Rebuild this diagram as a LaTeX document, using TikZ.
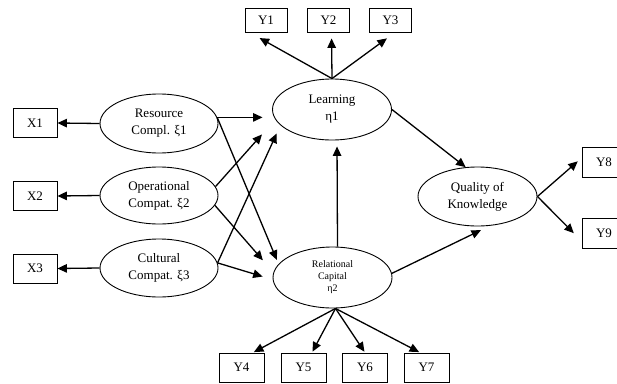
\documentclass[tikz,border=0pt]{standalone}
\usepackage{fontspec}
\setmainfont{Liberation Serif}
\usetikzlibrary{arrows.meta,shapes.geometric}
\begin{document}
\begin{tikzpicture}[x=1pt,y=-1pt,
  lat/.style={ellipse,draw,line width=0.9pt,inner sep=0pt,align=center,font=\fontsize{13}{17}\selectfont},
  obs/.style={rectangle,draw,line width=0.9pt,inner sep=0pt,font=\fontsize{13}{15}\selectfont},
  arr/.style={line width=1.3pt,-{Triangle[length=9.5pt,width=8.5pt]}}]
\useasboundingbox (0,0) rectangle (617,383);
% latent variables
\node[lat,minimum width=118pt,minimum height=59pt] (res) at (159,123.5) {Resource\\Compl. ξ1};
\node[lat,minimum width=118pt,minimum height=57pt] (ope) at (159,195.5) {Operational\\Compat. ξ2};
\node[lat,minimum width=118pt,minimum height=58pt] (cul) at (159,268) {Cultural\\Compat. ξ3};
\node[lat,minimum width=119pt,minimum height=61pt] (lea) at (332,109.5) {Learning\\η1};
\node[lat,minimum width=119pt,minimum height=61pt,font=\fontsize{10}{12}\selectfont] (rel) at (332.5,277.5) {Relational\\Capital\\η2};
\node[lat,minimum width=119pt,minimum height=59pt] (qua) at (477.5,196.5) {Quality of\\Knowledge};
% observed variables
\node[obs,minimum width=44pt,minimum height=29pt] (X1) at (35,123) {X1};
\node[obs,minimum width=44pt,minimum height=29pt] (X2) at (35,196) {X2};
\node[obs,minimum width=44pt,minimum height=29pt] (X3) at (35,268.5) {X3};
\node[obs,minimum width=42pt,minimum height=24pt] (Y1) at (266,20) {Y1};
\node[obs,minimum width=42pt,minimum height=24pt] (Y2) at (328.5,20) {Y2};
\node[obs,minimum width=42pt,minimum height=24pt] (Y3) at (390.5,20) {Y3};
\node[obs,minimum width=45pt,minimum height=29pt] (Y4) at (241.5,367.5) {Y4};
\node[obs,minimum width=45pt,minimum height=29pt] (Y5) at (303.5,367.5) {Y5};
\node[obs,minimum width=45pt,minimum height=29pt] (Y6) at (365,367.5) {Y6};
\node[obs,minimum width=45pt,minimum height=29pt] (Y7) at (426.5,367.5) {Y7};
\node[obs,minimum width=44pt,minimum height=30pt] (Y8) at (604,162) {Y8};
\node[obs,minimum width=44pt,minimum height=30pt] (Y9) at (604,233) {Y9};
% measurement arrows
\draw[arr] (res.west) -- (X1.east);
\draw[arr] (ope.west) -- (X2.east);
\draw[arr] (cul.west) -- (X3.east);
\draw[arr,shorten >=11.5pt] (lea.north) -- ([xshift=5pt]Y1.south west);
\draw[arr,shorten >=6pt] (lea.north) -- ([xshift=3pt]Y2.south);
\draw[arr,shorten >=10pt] (lea.north) -- ([xshift=4.5pt]Y3.south);
\draw[arr,shorten >=1pt] ([xshift=3pt]rel.south) -- ([xshift=11.5pt]Y4.north);
\draw[arr,shorten >=1pt] ([xshift=3pt]rel.south) -- ([xshift=8.5pt]Y5.north);
\draw[arr,shorten >=1pt] ([xshift=3pt]rel.south) -- (Y6.north);
\draw[arr,shorten >=1pt] ([xshift=3pt]rel.south) -- ([xshift=-6.5pt]Y7.north);
\draw[arr,shorten >=5pt] (qua.east) -- ([yshift=4pt]Y8.west);
\draw[arr,shorten >=11pt] (qua.east) -- ([yshift=-8pt]Y9.west);
% structural arrows
\draw[arr,shorten >=9.5pt] (res.6) -- (res.6 -| lea.west);
\draw[arr,shorten >=4.5pt] (res.6) -- (rel.166);
\draw[arr,shorten >=20pt] (ope.9) -- (lea.190);
\draw[arr,shorten >=16pt] (ope.350) -- (rel.175);
\draw[arr,shorten >=9pt] (cul.5) -- (lea.197);
\draw[arr,shorten >=10.5pt] (cul.5) -- (rel.182);
\draw[arr,shorten >=6pt] ([xshift=5pt]rel.north) -- ([xshift=5pt]lea.south);
\draw[arr] (lea.east) -- (qua.112);
\draw[arr,shorten >=10pt] (rel.4) -- (qua.293);
\end{tikzpicture}
\end{document}
